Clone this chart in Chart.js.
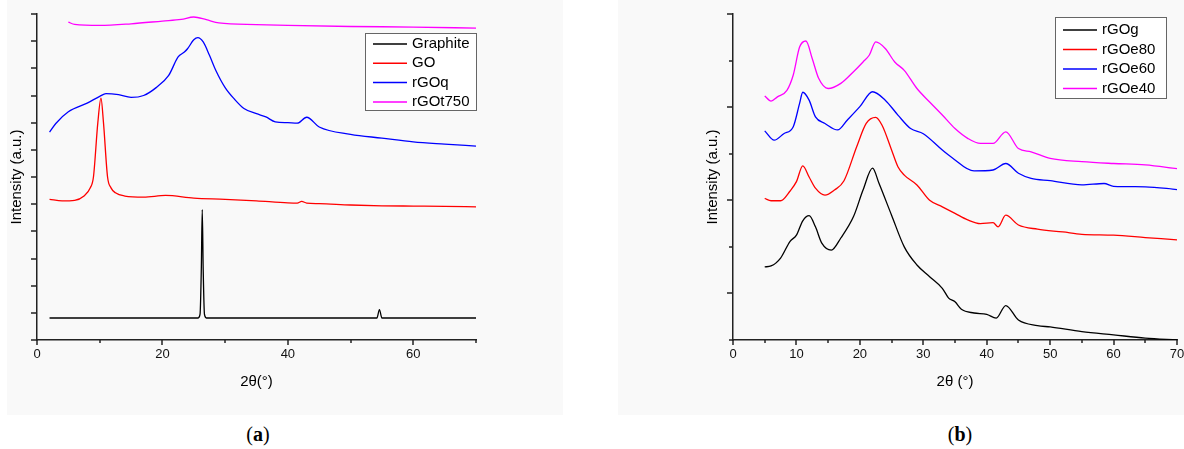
<!DOCTYPE html>
<html>
<head>
<meta charset="utf-8">
<script src="https://cdn.jsdelivr.net/npm/chart.js@4.4.1/dist/chart.umd.min.js"></script>
<style>
  body { margin: 0; background: #fff; width: 1184px; height: 449px; position: relative; overflow: hidden; }
  .panel-bg { position: absolute; background: #f9f9f9; }
  canvas { position: absolute; }
  .tag { position: absolute; font-family: "Liberation Serif", serif; font-size: 20px; color: #000; transform: translateX(-50%); }
</style>
</head>
<body>
<div class="panel-bg" style="left:7px;top:0;width:556px;height:415px"></div>
<div class="panel-bg" style="left:618px;top:0;width:566px;height:415px"></div>
<canvas id="chartA" width="490" height="400" style="left:0;top:0"></canvas>
<canvas id="chartB" width="494" height="400" style="left:690px;top:0"></canvas>
<div class="tag" style="left:258px;top:423px">(<b>a</b>)</div>
<div class="tag" style="left:960px;top:423px">(<b>b</b>)</div>
<script>
// ---- panel (a) ----
const grX = [2, 25.7, 26.0, 26.2, 26.35, 26.5, 26.7, 27.0, 54.2, 54.6, 55.0, 70];
const grY = [0.81, 0.81, 0.95, 2.6, 4.8, 2.6, 0.95, 0.81, 0.81, 1.12, 0.81, 0.81];

const goX = [2, 4, 6, 7.5, 8.5, 9.0, 9.7, 10.2, 10.6, 11.25, 11.8, 12.5, 14, 17, 20.5, 25, 30, 35, 40, 41.5, 42.2, 43, 45, 50, 55, 60, 65, 70];
const goY = [5.18, 5.12, 5.14, 5.3, 5.6, 6.0, 8.0, 8.9, 8.0, 6.0, 5.6, 5.42, 5.3, 5.26, 5.32, 5.22, 5.18, 5.12, 5.05, 5.04, 5.1, 5.04, 5.02, 4.97, 4.94, 4.93, 4.92, 4.9];

const qX = [2, 3, 5, 8, 10, 11, 13, 15, 17, 19, 21, 22.5, 23.5, 24, 25, 25.65, 26.5, 27.5, 28.5, 30, 31.5, 33, 35, 36.5, 38, 40, 41.5, 43, 45, 50, 55, 60, 65, 70];
const qY = [7.65, 7.97, 8.4, 8.72, 8.97, 9.07, 9.03, 8.93, 9.0, 9.29, 9.74, 10.42, 10.6, 10.72, 11.05, 11.13, 10.97, 10.48, 9.93, 9.29, 8.86, 8.52, 8.33, 8.21, 8.03, 8.0, 7.98, 8.2, 7.84, 7.57, 7.43, 7.29, 7.21, 7.14];

const tX = [5, 6, 10, 15, 20, 23, 25, 27, 29, 35, 40, 50, 60, 70];
const tY = [11.7, 11.62, 11.58, 11.64, 11.74, 11.8, 11.89, 11.79, 11.67, 11.61, 11.58, 11.54, 11.52, 11.48];

// ---- panel (b) ----
const gX = [5, 6, 7.5, 9, 10, 11, 12, 13, 14, 15.5, 17, 19, 20.5, 22, 23, 25, 27, 29, 31, 33, 34, 35, 36, 38, 40, 41.5, 43, 45, 48, 50, 55, 60, 65, 70];
const gY = [1.57, 1.59, 1.76, 2.12, 2.25, 2.56, 2.67, 2.43, 2.08, 1.93, 2.19, 2.65, 3.22, 3.69, 3.37, 2.68, 2.0, 1.61, 1.36, 1.11, 0.9, 0.82, 0.66, 0.58, 0.55, 0.47, 0.74, 0.43, 0.31, 0.28, 0.18, 0.11, 0.04, 0.0];

const e80X = [5, 6, 7.5, 9, 10, 11, 12, 13, 14.5, 16, 17.5, 19.5, 21, 22.5, 23.5, 25, 26, 27, 29, 31, 33, 35, 37, 39, 41, 41.8, 43, 45, 48, 52, 55, 60, 65, 70];
const e80Y = [3.04, 2.99, 2.99, 3.2, 3.4, 3.74, 3.5, 3.26, 3.11, 3.22, 3.42, 4.15, 4.65, 4.78, 4.61, 4.08, 3.72, 3.54, 3.33, 3.0, 2.86, 2.72, 2.58, 2.5, 2.52, 2.43, 2.68, 2.47, 2.38, 2.32, 2.27, 2.25, 2.2, 2.15];

const e60X = [5, 6.5, 8, 9.5, 10.5, 11, 12, 13, 14.5, 16.5, 18, 20, 22, 24, 26, 28, 30, 33, 34.5, 38, 41, 43, 45, 47, 50, 55, 58.5, 60, 65, 70];
const e60Y = [4.49, 4.29, 4.43, 4.58, 5.08, 5.32, 5.15, 4.79, 4.65, 4.51, 4.72, 5.01, 5.33, 5.15, 4.83, 4.54, 4.43, 4.08, 3.92, 3.63, 3.65, 3.79, 3.58, 3.47, 3.42, 3.33, 3.36, 3.3, 3.29, 3.23];

const e40X = [5, 6, 7, 8.5, 9.5, 10.5, 11.5, 12.5, 13.5, 15, 17, 19, 20.5, 21.5, 22.5, 24, 25.5, 27, 29, 31, 33, 35, 37, 39, 41, 43, 45, 47, 50, 55, 60, 65, 70];
const e40Y = [5.24, 5.13, 5.22, 5.36, 5.69, 6.29, 6.42, 6.04, 5.62, 5.4, 5.51, 5.76, 5.97, 6.12, 6.4, 6.26, 5.97, 5.79, 5.4, 5.11, 4.83, 4.54, 4.33, 4.22, 4.22, 4.47, 4.11, 4.04, 3.9, 3.83, 3.79, 3.76, 3.68];

function pts(xs, ys) {
    return xs.map((x, i) => ({ x: x, y: ys[i] }));
}

function series(label, xs, ys, color) {
    return {
        label: label,
        data: pts(xs, ys),
        borderColor: color,
        backgroundColor: color,
        borderWidth: 1.3,
        pointRadius: 0,
        showLine: true,
        cubicInterpolationMode: "monotone"
    };
}

// legend with a border box, drawn from the dataset labels/colours
const boxLegend = {
    id: "boxLegend",
    afterDraw(chart, args, opts) {
        const ctx = chart.ctx;
        ctx.save();
        ctx.fillStyle = "#fff";
        ctx.fillRect(opts.left, opts.top, opts.width, opts.height);
        ctx.strokeStyle = "#666";
        ctx.lineWidth = 1;
        ctx.strokeRect(opts.left + 0.5, opts.top + 0.5, opts.width, opts.height);
        ctx.font = "15px 'Liberation Sans', Arial, sans-serif";
        ctx.textBaseline = "middle";
        chart.data.datasets.forEach((ds, i) => {
            const y = opts.top + opts.firstRow + i * opts.rowGap;
            ctx.strokeStyle = ds.borderColor;
            ctx.lineWidth = 1.5;
            ctx.beginPath();
            ctx.moveTo(opts.left + 8, y);
            ctx.lineTo(opts.left + 42, y);
            ctx.stroke();
            ctx.fillStyle = "#000";
            ctx.fillText(ds.label, opts.left + 47, y);
        });
        ctx.restore();
    }
};

// major/minor tick marks on the outside of the axes
const tickMarks = {
    id: "tickMarks",
    afterDraw(chart, args, opts) {
        const ctx = chart.ctx;
        const area = chart.chartArea;
        const xs = chart.scales.x, ys = chart.scales.y;
        ctx.save();
        ctx.strokeStyle = "#222";
        ctx.lineWidth = 1.5;
        xs.ticks.forEach(t => {
            const px = Math.round(xs.getPixelForValue(t.value));
            const len = (t.value % opts.xMajor === 0) ? 5 : 3;
            ctx.beginPath();
            ctx.moveTo(px, area.bottom);
            ctx.lineTo(px, area.bottom + len);
            ctx.stroke();
        });
        ys.ticks.forEach(t => {
            const py = Math.round(ys.getPixelForValue(t.value));
            const len = ((t.value - opts.yOffset) % opts.yMajor === 0) ? 6 : 4;
            ctx.beginPath();
            ctx.moveTo(area.left, py);
            ctx.lineTo(area.left - len, py);
            ctx.stroke();
        });
        ctx.restore();
    }
};

function makeOptions(cfg) {
    return {
        responsive: false,
        animation: false,
        layout: { padding: { top: 14, right: cfg.padRight, left: 0, bottom: 0 } },
        plugins: {
            legend: { display: false },
            tooltip: { enabled: false },
            boxLegend: cfg.legend,
            tickMarks: cfg.marks
        },
        scales: {
            x: {
                type: "linear",
                min: 0, max: 70,
                grid: { drawOnChartArea: false, drawTicks: false },
                border: { display: true, color: "#222", width: 1.5 },
                ticks: {
                    stepSize: cfg.xStep,
                    padding: 7,
                    color: "#111",
                    font: { family: "'Liberation Sans', Arial, sans-serif", size: 13 },
                    maxRotation: 0,
                    autoSkip: false,
                    callback: v => (v % cfg.xLabelEvery === 0 ? v : "")
                },
                title: {
                    display: true,
                    text: cfg.xTitle,
                    color: "#000",
                    font: { family: "'Liberation Sans Narrow', 'Liberation Sans', sans-serif", size: 15 },
                    padding: { top: 4, bottom: 9 }
                },
                afterFit: s => { s.height = 60; s.paddingLeft = 0; s.paddingRight = 0; }
            },
            y: {
                min: 0, max: cfg.yMax,
                grid: { drawOnChartArea: false, drawTicks: false },
                border: { display: true, color: "#222", width: 1.5 },
                ticks: { stepSize: 1, display: false },
                title: {
                    display: true,
                    text: "Intensity (a.u.)",
                    color: "#000",
                    font: { family: "'Liberation Sans', Arial, sans-serif", size: 15 },
                    padding: { top: cfg.yTitlePad, bottom: 0 }
                },
                afterFit: s => { s.width = cfg.yWidth; }
            }
        }
    };
}

new Chart(document.getElementById("chartA"), {
    type: "scatter",
    data: {
        datasets: [
            series("Graphite", grX, grY, "#000000"),
            series("GO", goX, goY, "#ff0000"),
            series("rGOq", qX, qY, "#0000ff"),
            series("rGOt750", tX, tY, "#ff00ff")
        ]
    },
    options: makeOptions({
        padRight: 14, yWidth: 37, yMax: 12, yTitlePad: 8,
        xStep: 10, xLabelEvery: 20, xTitle: "2θ(°)",
        legend: { left: 365, top: 33, width: 111, height: 77, firstRow: 11, rowGap: 19.3 },
        marks: { xMajor: 20, yMajor: 1, yOffset: 0 }
    }),
    plugins: [tickMarks, boxLegend]
});

new Chart(document.getElementById("chartB"), {
    type: "scatter",
    data: {
        datasets: [
            series("rGOg", gX, gY, "#000000"),
            series("rGOe80", e80X, e80Y, "#ff0000"),
            series("rGOe60", e60X, e60Y, "#0000ff"),
            series("rGOe40", e40X, e40Y, "#ff00ff")
        ]
    },
    options: makeOptions({
        padRight: 7, yWidth: 43, yMax: 7, yTitlePad: 14,
        xStep: 5, xLabelEvery: 10, xTitle: "2θ (°)",
        legend: { left: 365, top: 17, width: 111, height: 81, firstRow: 13, rowGap: 19.5 },
        marks: { xMajor: 10, yMajor: 2, yOffset: 1 }
    }),
    plugins: [tickMarks, boxLegend]
});
</script>
</body>
</html>
